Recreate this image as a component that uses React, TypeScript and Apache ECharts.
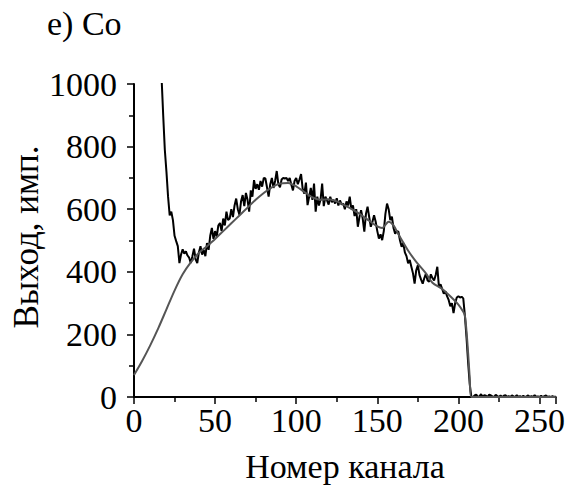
import React, { useEffect, useRef } from "react";
import * as echarts from "echarts";

const titleText = "e) Co";
const xAxisName = "Номер канала";
const yAxisName = "Выход, имп.";

// measured spectrum: channel = measuredStart + index
const measuredStart = 16;
const measuredValues = [
  1200, 1020, 900, 790, 720, 640, 580, 592, 565, 515, 498, 482, 428, 455, 472, 458, 465, 452, 445, 428,
  450, 474, 440, 428, 462, 482, 455, 470, 450, 492, 470, 515, 540, 505, 530, 512, 548, 556, 530, 570,
  548, 592, 565, 570, 600, 575, 612, 634, 600, 582, 625, 645, 610, 652, 630, 592, 660, 640, 693, 665,
  680, 662, 690, 672, 700, 698, 670, 640, 680, 700, 668, 690, 722, 680, 670, 695, 700, 698, 700, 690,
  700, 678, 660, 690, 700, 680, 695, 712, 665, 650, 685, 613, 640, 668, 630, 682, 592, 640, 612, 630,
  682, 610, 640, 628, 615, 640, 622, 630, 618, 635, 612, 628, 615, 618, 600, 625, 612, 640, 600, 612,
  578, 600, 544, 575, 597, 570, 528, 585, 608, 575, 544, 560, 581, 560, 530, 506, 520, 501, 530, 585,
  618, 600, 565, 576, 540, 522, 530, 528, 500, 480, 492, 462, 450, 427, 438, 416, 395, 362, 405, 421,
  390, 375, 362, 380, 394, 372, 368, 392, 380, 372, 390, 416, 352, 360, 345, 330, 338, 322, 310, 290,
  300, 268, 300, 318, 322, 318, 320, 315, 260, 190, 110, 40, 0,
  0, 5, 8, 0, 3, 9, 0, 6, 4, 0, 8, 5, 2, 0, 7, 3, 0, 5, 0, 4,
  6, 0, 3, 0, 5, 2, 0, 6, 0, 3, 0, 4, 0, 2, 5, 0, 3, 0, 6, 0,
  2, 0, 4, 0, 3, 5, 0, 2, 0, 3, 0, 2,
];

// fitted curve
const fitX = [0, 5, 10, 15, 20, 25, 30, 35, 40, 45, 50, 55, 60, 65, 70, 75, 80, 85, 90, 95, 100, 105, 110, 115, 120, 125, 130, 135, 140, 145, 150, 153, 157, 160, 163, 167, 170, 174, 180, 184, 190, 195, 200, 203, 204, 205, 206, 207, 208, 215, 260];
const fitY = [70, 115, 165, 220, 280, 340, 392, 430, 460, 482, 505, 530, 555, 580, 605, 630, 652, 670, 682, 684, 673, 655, 638, 630, 632, 625, 612, 598, 582, 563, 545, 540, 560, 548, 520, 485, 460, 432, 395, 365, 345, 322, 295, 272, 260, 210, 140, 60, 0, 0, 0];

const xTicks = [0, 50, 100, 150, 200, 250];
const yTicks = [0, 200, 400, 600, 800, 1000];

const FONT = "Liberation Serif";

export default function App() {
  const ref = useRef<HTMLDivElement>(null);
  useEffect(() => {
    document.body.style.margin = "0";
    if (!ref.current) return;
    const chart = echarts.init(ref.current, null, { renderer: "svg" });
    const measured = measuredValues.map((v, i) => [measuredStart + i, v]);
    const fit = fitX.map((x, i) => [x, fitY[i]]);
    chart.setOption({
      animation: false,
      backgroundColor: "#ffffff",
      title: {
        text: titleText,
        left: 42,
        top: 1,
        textStyle: { fontFamily: FONT, fontSize: 34, fontWeight: "normal", color: "#000" },
      },
      grid: { left: 134, right: 11, top: 84, bottom: 91, containLabel: false },
      xAxis: {
        type: "value",
        min: 0,
        max: 260,
        interval: 50,
        axisLine: { show: true, onZero: false, lineStyle: { color: "#000", width: 2 } },
        axisTick: { show: true, inside: false, length: 7, lineStyle: { color: "#000", width: 1.5 } },
        minorTick: { show: true, splitNumber: 2, length: 5, lineStyle: { color: "#000", width: 1.5 } },
        splitLine: { show: false },
        axisLabel: {
          fontFamily: FONT,
          fontSize: 34,
          color: "#000",
          margin: 6,
          formatter: (v: number) => (xTicks.includes(v) ? String(v) : ""),
        },
      },
      yAxis: {
        type: "value",
        min: 0,
        max: 1000,
        interval: 200,
        axisLine: { show: true, lineStyle: { color: "#000", width: 2 } },
        axisTick: { show: true, inside: false, length: 7, lineStyle: { color: "#000", width: 1.5 } },
        minorTick: { show: true, splitNumber: 2, length: 5, lineStyle: { color: "#000", width: 1.5 } },
        splitLine: { show: false },
        axisLabel: {
          fontFamily: FONT,
          fontSize: 34,
          color: "#000",
          margin: 17,
          formatter: (v: number) => (yTicks.includes(v) ? String(v) : ""),
        },
      },
      graphic: [
        {
          type: "text",
          x: 345,
          y: 466,
          style: {
            text: xAxisName,
            fontFamily: FONT,
            fontSize: 34,
            fill: "#000",
            textAlign: "center",
            textVerticalAlign: "middle",
          },
        },
        {
          type: "text",
          x: 26,
          y: 237,
          rotation: Math.PI / 2,
          style: {
            text: yAxisName,
            fontFamily: FONT,
            fontSize: 35,
            fill: "#000",
            textAlign: "center",
            textVerticalAlign: "middle",
          },
        },
      ],
      series: [
        {
          type: "line",
          data: measured,
          showSymbol: false,
          symbol: "none",
          clip: true,
          lineStyle: { color: "#000", width: 2 },
          z: 2,
        },
        {
          type: "line",
          data: fit,
          showSymbol: false,
          symbol: "none",
          smooth: 0.3,
          clip: true,
          lineStyle: { color: "#555555", width: 2 },
          z: 3,
        },
      ],
    });
    return () => chart.dispose();
  }, []);
  return <div ref={ref} style={{ width: 568, height: 488 }} />;
}
